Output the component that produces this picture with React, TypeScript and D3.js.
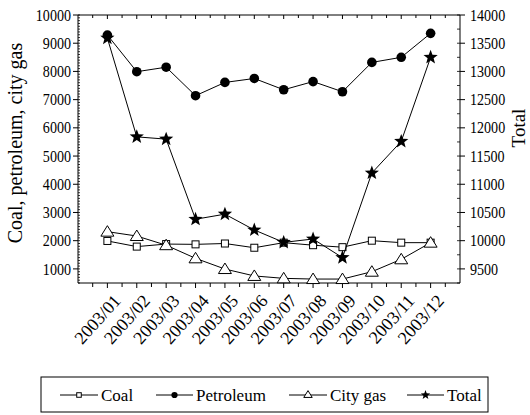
import React from "react";
import * as d3 from "d3";

const months = ["2003/01","2003/02","2003/03","2003/04","2003/05","2003/06","2003/07","2003/08","2003/09","2003/10","2003/11","2003/12"];
const coal = [1990, 1790, 1880, 1870, 1900, 1750, 1930, 1840, 1770, 2000, 1930, 1930];
const petroleum = [9290, 7990, 8150, 7140, 7610, 7750, 7350, 7640, 7280, 8320, 8500, 9350];
const cityGas = [2320, 2165, 1840, 1375, 995, 750, 665, 640, 640, 900, 1340, 1930];
const total = [13590, 11840, 11800, 10380, 10470, 10190, 9970, 10030, 9700, 11200, 11760, 13250];
const leftTicks = [1000, 2000, 3000, 4000, 5000, 6000, 7000, 8000, 9000, 10000];
const rightTicks = [9500, 10000, 10500, 11000, 11500, 12000, 12500, 13000, 13500, 14000];

const FONT = "Liberation Serif";

const X0 = 78, X1 = 460, Y0 = 15, Y1 = 283;
const x = d3.scaleLinear().domain([0, 13]).range([X0, X1]);
const yL = d3.scaleLinear().domain([500, 10000]).range([Y1, Y0]);
const yR = d3.scaleLinear().domain([9250, 14000]).range([Y1, Y0]);

const starPath = (r: number) => {
  const pts: string[] = [];
  for (let i = 0; i < 10; i++) {
    const a = -Math.PI / 2 + (i * Math.PI) / 5;
    const rr = i % 2 === 0 ? r : r * 0.42;
    pts.push(`${(rr * Math.cos(a)).toFixed(2)},${(rr * Math.sin(a)).toFixed(2)}`);
  }
  return "M" + pts.join("L") + "Z";
};

type Kind = "square" | "circle" | "triangle" | "star";

const Marker = ({ kind, cx, cy, s = 1 }: { kind: Kind; cx: number; cy: number; s?: number }) => {
  if (kind === "square")
    return <rect x={cx - 3.5 * s} y={cy - 3.5 * s} width={7 * s} height={7 * s} fill="white" stroke="black" strokeWidth={1} />;
  if (kind === "circle") return <circle cx={cx} cy={cy} r={4.8 * s} fill="black" />;
  if (kind === "triangle")
    return (
      <path
        d={`M${cx},${cy - 6 * s}L${cx + 6.5 * s},${cy + 4.5 * s}L${cx - 6.5 * s},${cy + 4.5 * s}Z`}
        fill="white"
        stroke="black"
        strokeWidth={1}
      />
    );
  return <path d={starPath(7.5 * s)} transform={`translate(${cx},${cy})`} fill="black" />;
};

const series: { name: string; values: number[]; kind: Kind; right: boolean }[] = [
  { name: "Coal", values: coal, kind: "square", right: false },
  { name: "City gas", values: cityGas, kind: "triangle", right: false },
  { name: "Petroleum", values: petroleum, kind: "circle", right: false },
  { name: "Total", values: total, kind: "star", right: true },
];

const T = ({ fs, children, ...rest }: any) => (
  <text {...rest} fontFamily={FONT} fontSize={fs} style={{ fontFamily: `"${FONT}"`, fontSize: fs }}>
    {children}
  </text>
);

export default function App() {
  const line = (vals: number[], right: boolean) =>
    d3
      .line<number>()
      .x((_, i) => x(i + 1))
      .y((v) => (right ? yR(v) : yL(v)))(vals) as string;

  const leftMinor = d3.range(500, 10001, 100);
  const rightMinor = d3.range(9250, 14001, 250);
  const halfSteps = d3.range(0.5, 13, 0.5);

  const LY = 395;
  const legendItems: { name: string; kind: Kind; x1: number; x2: number }[] = [
    { name: "Coal", kind: "square", x1: 60, x2: 98 },
    { name: "Petroleum", kind: "circle", x1: 156, x2: 193 },
    { name: "City gas", kind: "triangle", x1: 289, x2: 327 },
    { name: "Total", kind: "star", x1: 407, x2: 444 },
  ];

  return (
    <svg width={530} height={415} fontFamily={FONT} style={{ display: "block", position: "absolute", left: 0, top: 0, background: "white", fontFamily: `"${FONT}"` }}>
      <style>{`text { font-family: "Liberation Serif", "Times New Roman" !important; }`}</style>
      {/* axes frame */}
      <line x1={X0} y1={Y0} x2={X0} y2={Y1} stroke="black" />
      <line x1={X1} y1={Y0} x2={X1} y2={Y1} stroke="black" />
      <line x1={X0} y1={Y0} x2={X1} y2={Y0} stroke="black" />
      <line x1={X0} y1={Y1} x2={X1} y2={Y1} stroke="black" />

      {/* left ticks */}
      {leftMinor.map((v) => (
        <line key={"lm" + v} x1={X0} x2={X0 + 2} y1={yL(v)} y2={yL(v)} stroke="black" strokeWidth={0.8} />
      ))}
      {leftTicks.map((v) => (
        <g key={"lt" + v}>
          <line x1={X0 - 5} x2={X0} y1={yL(v)} y2={yL(v)} stroke="black" />
          <T transform={`translate(${X0 - 7},${yL(v)}) scale(0.88,1)`} dy="0.35em" textAnchor="end" fs={16}>
            {v}
          </T>
        </g>
      ))}

      {/* right ticks */}
      {rightMinor.map((v) => (
        <line key={"rm" + v} x1={X1 - 3} x2={X1} y1={yR(v)} y2={yR(v)} stroke="black" strokeWidth={0.8} />
      ))}
      {rightTicks.map((v) => (
        <g key={"rt" + v}>
          <line x1={X1} x2={X1 + 5} y1={yR(v)} y2={yR(v)} stroke="black" />
          <T transform={`translate(${X1 + 10},${yR(v)}) scale(0.88,1)`} dy="0.35em" textAnchor="start" fs={16}>
            {v}
          </T>
        </g>
      ))}

      {/* bottom / top ticks */}
      {halfSteps.map((s) => (
        <g key={"bt" + s}>
          <line x1={x(s)} x2={x(s)} y1={Y1} y2={Y1 + (Number.isInteger(s) ? 5 : 4)} stroke="black" />
          <line x1={x(s)} x2={x(s)} y1={Y0} y2={Y0 + (Number.isInteger(s) ? 4 : 3)} stroke="black" />
        </g>
      ))}
      {months.map((m, i) => (
        <T
          key={m}
          transform={`translate(${x(i + 1) + 5},${Y1 + 10}) rotate(-48)`}
          textAnchor="end"
          dy="0.7em"
          fs={18}
        >
          {m}
        </T>
      ))}

      {/* axis titles */}
      <T transform={`translate(22,143) rotate(-90)`} textAnchor="middle" fs={20}>
        Coal, petroleum, city gas
      </T>
      <T transform={`translate(525,128) rotate(-90)`} textAnchor="middle" fs={19}>
        Total
      </T>

      {/* series */}
      {series.map((s) => (
        <g key={s.name}>
          <path d={line(s.values, s.right)} fill="none" stroke="black" strokeWidth={1} />
          {s.values.map((v, i) => (
            <Marker key={i} kind={s.kind} cx={x(i + 1)} cy={s.right ? yR(v) : yL(v)} />
          ))}
        </g>
      ))}

      {/* legend */}
      <rect x={41} y={377} width={447} height={35} fill="white" stroke="black" strokeWidth={1} />
      {legendItems.map((it) => (
        <g key={it.name}>
          <line x1={it.x1} x2={it.x2} y1={LY} y2={LY} stroke="black" />
          <Marker kind={it.kind} cx={(it.x1 + it.x2) / 2} cy={it.kind === "triangle" ? LY - 0.5 : LY} s={0.65} />
          <T x={it.x2 + 3} y={LY} dy="0.33em" fs={17}>
            {it.name}
          </T>
        </g>
      ))}
    </svg>
  );
}
